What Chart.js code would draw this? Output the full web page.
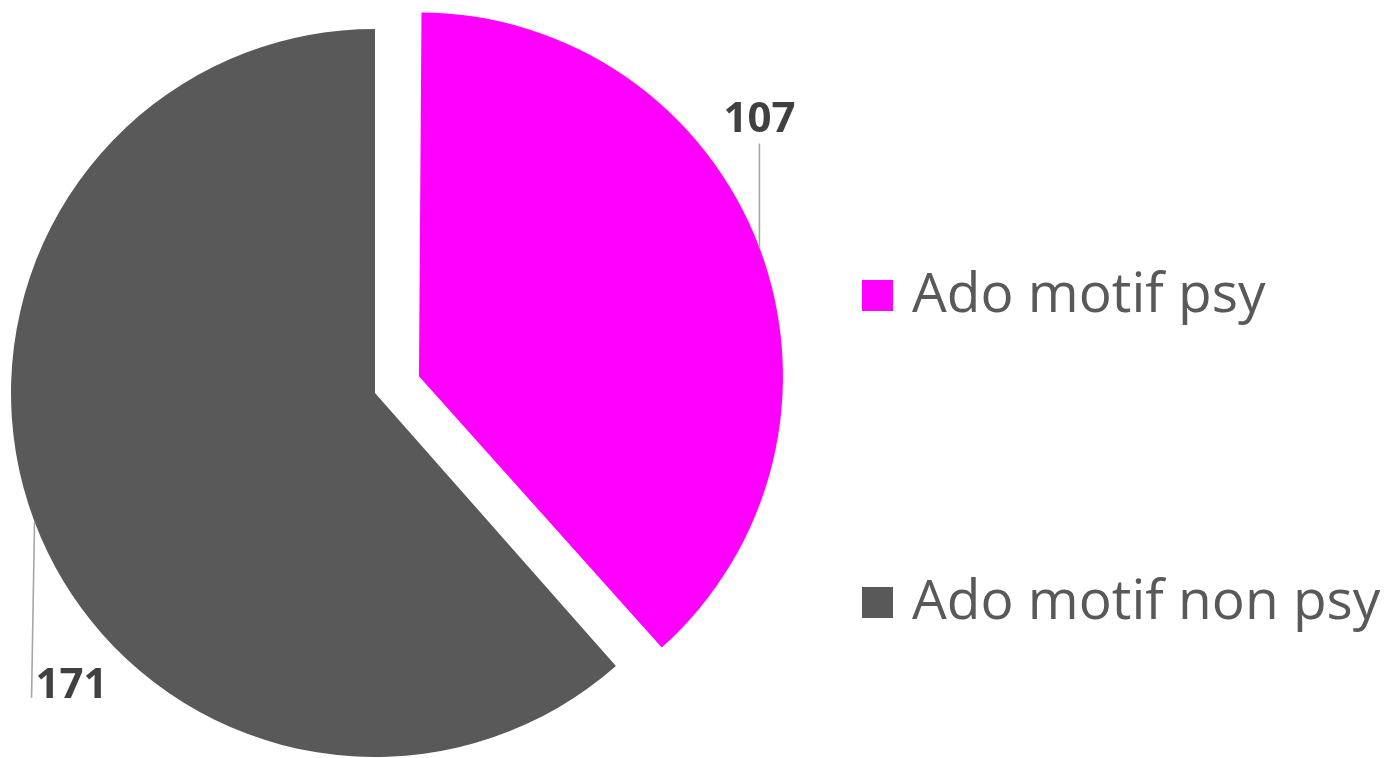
<!DOCTYPE html>
<html>
<head>
<meta charset="utf-8">
<script src="https://cdn.jsdelivr.net/npm/chart.js@4.4.1/dist/chart.umd.min.js"></script>
<style>
  html, body { margin: 0; padding: 0; background: #fff; }
  #wrap { width: 1395px; height: 758px; position: relative; }
</style>
</head>
<body>
<div id="wrap"><canvas id="pie"></canvas></div>
<script>
// données du graphique
const categories = ['Ado motif psy', 'Ado motif non psy'];
const valeurs = [107, 171];
const couleurs = ['#ff00ff', '#595959'];
const decalages = [47, 0];   // part "psy" détachée (en px)

// Chart.js divise l'offset par 4 et grossit le rayon de la part détachée :
// on corrige le rayon pour garder les deux parts à la même taille
const correctionRayon = {
    id: 'correctionRayon',
    beforeDatasetsDraw(chart) {
        chart.getDatasetMeta(0).data.forEach((arc, i) => {
            const circ = arc.endAngle - arc.startAngle;
            const fix = 1 - Math.sin(Math.min(Math.PI, circ));
            arc.outerRadius = chart.options.radius - decalages[i] * fix;
        });
    }
};

// étiquettes de valeur avec trait de rappel
const etiquettesPlugin = {
    id: 'etiquettes',
    afterDatasetsDraw(chart) {
        const ctx = chart.ctx;
        const arcs = chart.getDatasetMeta(0).data;
        ctx.save();
        ctx.font = 'bold 42px "Open Sans"';
        ctx.fillStyle = '#404040';
        ctx.strokeStyle = '#a6a6a6';
        ctx.lineWidth = 1.6;
        arcs.forEach((arc, i) => {
            const mid = (arc.startAngle + arc.endAngle) / 2;
            const r = chart.options.radius + decalages[i];
            const x0 = arc.x + Math.cos(mid) * r;
            const y0 = arc.y + Math.sin(mid) * r;
            ctx.beginPath();
            if (i === 0) {
                // trait vers le haut, texte centré au-dessus
                ctx.moveTo(x0, y0);
                ctx.lineTo(x0, y0 - 104);
                ctx.stroke();
                ctx.textAlign = 'center';
                ctx.fillText(String(valeurs[i]), x0, y0 - 116);
            } else {
                // trait vers le bas, texte à droite
                ctx.moveTo(x0, y0);
                ctx.lineTo(x0 - 3, y0 + 176);
                ctx.stroke();
                ctx.textAlign = 'left';
                ctx.fillText(String(valeurs[i]), x0 + 1, y0 + 176);
            }
        });
        ctx.restore();
    }
};

// légende dessinée à la main (à droite)
const legendePlugin = {
    id: 'legende',
    afterDraw(chart) {
        const ctx = chart.ctx;
        ctx.save();
        ctx.font = '55px "Open Sans"';
        ctx.textBaseline = 'middle';
        ctx.textAlign = 'left';
        categories.forEach((lab, i) => {
            const cy = 295 + i * 307;
            ctx.fillStyle = couleurs[i];
            ctx.fillRect(862, cy - 15, 31, 31);
            ctx.fillStyle = '#595959';
            ctx.fillText(lab, 912, cy + 1);
        });
        ctx.restore();
    }
};

const chartPie = new Chart(document.getElementById('pie'), {
    type: 'pie',
    data: {
        labels: categories,
        datasets: [{
            data: valeurs,
            backgroundColor: couleurs,
            borderWidth: 0,
            offset: decalages.map(d => d * 4),
            clip: false
        }]
    },
    options: {
        responsive: true, maintainAspectRatio: false,
        animation: false,
        radius: 364,
        layout: { padding: { left: 0, right: 645, top: 28, bottom: 0 } },
        plugins: {
            legend: { display: false },
            tooltip: { enabled: false }
        }
    },
    plugins: [correctionRayon, etiquettesPlugin, legendePlugin]
});
</script>
</body>
</html>
